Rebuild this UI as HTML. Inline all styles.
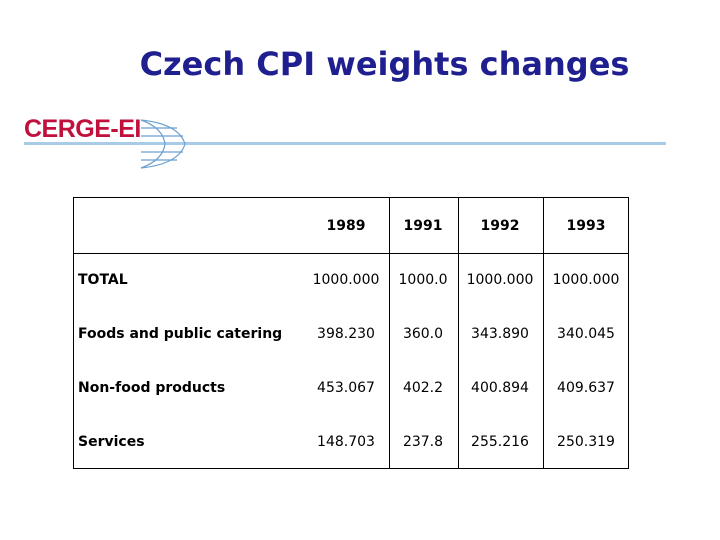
<!DOCTYPE html>
<html><head><meta charset="utf-8"><style>
body{margin:0;width:720px;height:540px;background:#fff;position:relative;overflow:hidden;font-family:"DejaVu Sans","Liberation Sans",sans-serif}
.t{position:absolute;left:137px;width:495px;top:45px;text-align:center;font-size:32px;font-weight:bold;color:#1f1f8f;white-space:nowrap}
.c{position:absolute;font-size:14px;color:#000;white-space:nowrap}
.b{font-weight:bold}
</style></head><body>
<div class="t">Czech CPI weights changes</div>
<div style="position:absolute;left:24px;top:112px;width:642px;height:60px">
<div style="position:absolute;left:0;top:3px;font-size:25px;font-family:'Liberation Sans',sans-serif;font-weight:bold;color:#c0103c;letter-spacing:-0.5px">CERGE-EI</div>
<div style="position:absolute;left:0;top:30px;width:642px;height:3px;background:#a8cbe8"></div>
<svg style="position:absolute;left:115px;top:6px" width="50" height="52"><g fill="none" stroke="#6aa0d0" stroke-width="1.2"><path d="M2 2 Q40 6 46 26 Q40 46 2 50"/><path d="M2 2 Q24 10 26 26 Q24 42 2 50"/><line x1="2" y1="10" x2="38" y2="10"/><line x1="2" y1="18" x2="44" y2="18"/><line x1="2" y1="34" x2="44" y2="34"/><line x1="2" y1="42" x2="38" y2="42"/></g></svg>
</div>
<div style="position:absolute;left:73px;top:197px;width:554px;height:270px;border:1.5px solid #000">
<div style="position:absolute;left:0;top:55px;width:554px;border-top:1.5px solid #000"></div>
<div style="position:absolute;left:315px;top:0;height:270px;border-left:1.5px solid #000"></div>
<div style="position:absolute;left:384px;top:0;height:270px;border-left:1.5px solid #000"></div>
<div style="position:absolute;left:469px;top:0;height:270px;border-left:1.5px solid #000"></div>
</div>
<div id="cells"></div>
<script>
const years=["1989","1991","1992","1993"];
const rows=["TOTAL","Foods and public catering","Non-food products","Services"];
const vals=[["1000.000","1000.0","1000.000","1000.000"],["398.230","360.0","343.890","340.045"],["453.067","402.2","400.894","409.637"],["148.703","237.8","255.216","250.319"]];
const centers=[346,423,500,586];
const cont=document.getElementById('cells');
function cell(txt,x,y,bold,center){const d=document.createElement('div');d.className='c'+(bold?' b':'');d.textContent=txt;d.style.top=(y-9)+'px';if(center){d.style.left=(x-50)+'px';d.style.width='100px';d.style.textAlign='center';}else d.style.left=x+'px';cont.appendChild(d);return d;}
years.forEach((y,i)=>{const d=cell(y,centers[i],227,true,true);

});
rows.forEach((r,j)=>{const yy=281+j*54;const d=cell(r,78,yy,true,false);


vals[j].forEach((v,i)=>{const e=cell(v,centers[i],yy,false,true);

});});
</script>
</body></html>
